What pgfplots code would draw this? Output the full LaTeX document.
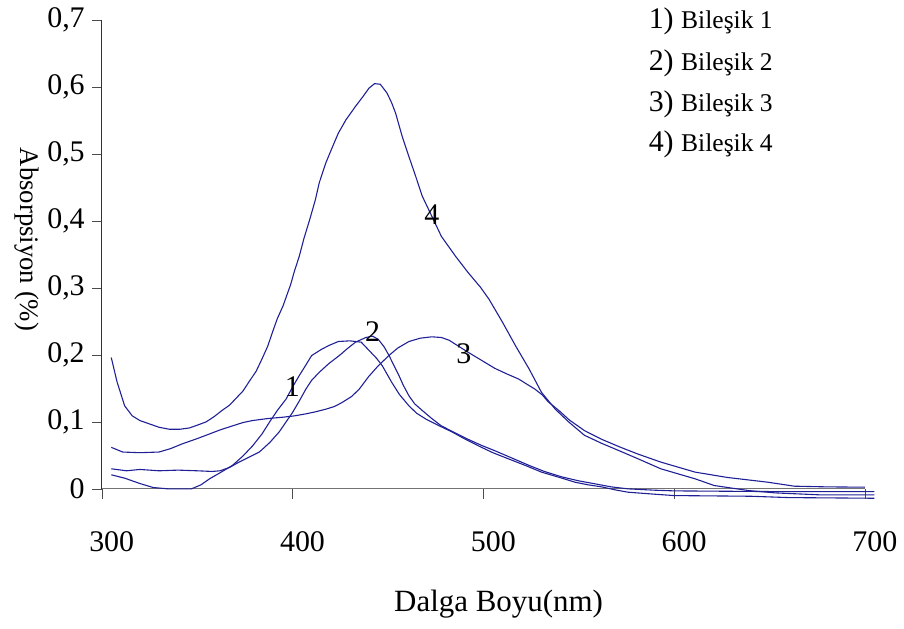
\documentclass[border=0pt]{standalone}
\usepackage{fontspec}
\setmainfont{Liberation Serif}
\usepackage{pgfplots}
\pgfplotsset{compat=1.18}
\definecolor{curve}{RGB}{32,32,150}
\newcommand{\fbig}{\fontsize{15}{18}\selectfont}
\newcommand{\fsm}{\fontsize{12.8}{15}\selectfont}
\begin{document}
\begin{tikzpicture}
\begin{axis}[
    scale only axis,
    width=382.5pt, height=235pt,
    xmin=300, xmax=700, ymin=0, ymax=0.7,
    axis lines=left,
    axis line style={-},
    x axis line style={draw=black!55},
    y axis line style={draw=black!80},
    tick align=outside,
    major tick length=5pt,
    tick style={black!70},
    xtick={300,400,500,600,700},
    ytick={0,0.1,0.2,0.3,0.4,0.5,0.6,0.7},
    /pgf/number format/assume math mode=true,
    /pgf/number format/use comma,
    /pgf/number format/fixed,
    /pgf/number format/precision=1,
    ticklabel style={font=\fbig},
    xticklabel style={yshift=-13pt, xshift=5pt},
    xlabel={Dalga Boyu(nm)},
    xlabel style={font=\fontsize{15.5}{18}\selectfont, at={(axis description cs:0.52,-0.245)}, anchor=center},
    ylabel={Absorpsiyon (\%)},
    ylabel style={font=\fontsize{13.4}{16}\selectfont, at={(axis description cs:-0.098,0.532)}, anchor=center, rotate=180},
    clip=false,
]
% 1) Bilesik 1
\addplot[curve, line width=0.55pt] coordinates {
(305,0.021)(312,0.016)(320,0.008)(327,0.002)(335,0.0)(347,0.0)(352,0.006)(356.5,0.015)
(362,0.024)(368.5,0.035)(374,0.049)(379,0.064)(384,0.082)(388,0.100)(392,0.117)(396.6,0.134)
(400,0.152)(403.5,0.169)(407,0.185)(410,0.199)(415,0.208)(419,0.214)(424,0.220)(430,0.221)
(436,0.219)(440,0.207)(444,0.195)(447,0.184)(452,0.159)(456,0.141)(461,0.124)(465,0.113)
(470,0.104)(477,0.094)(483.6,0.085)(490,0.075)(497.6,0.064)(505,0.054)(513,0.045)(522,0.035)
(530.5,0.025)(540,0.017)(548,0.010)(555,0.006)(562,0.003)(570,-0.002)(576,-0.005)(590,-0.008)
(600,-0.010)(640,-0.011)(660,-0.013)(705,-0.014)
};
% 2) Bilesik 2
\addplot[curve, line width=0.55pt] coordinates {
(305,0.030)(313,0.027)(320,0.029)(330,0.027)(340,0.028)(350,0.027)(358,0.026)(362,0.027)
(367,0.032)(372,0.040)(377,0.047)(382.6,0.055)(388,0.069)(393,0.085)(400,0.114)(403.5,0.131)
(407,0.149)(410,0.162)(414,0.174)(419,0.187)(424.5,0.199)(429,0.210)(433,0.219)(438.4,0.226)
(442,0.228)(445,0.223)(448,0.212)(450.6,0.199)(453,0.185)(455.8,0.169)(458,0.155)(461,0.139)
(464,0.127)(468,0.117)(473,0.105)(478,0.094)(485,0.084)(492,0.074)(499,0.065)(506,0.057)
(515,0.046)(524,0.035)(532,0.026)(541,0.018)(550,0.012)(558.6,0.0075)(567,0.003)(576,0.0)
(590,-0.002)(600,-0.003)(650,-0.004)(705,-0.004)
};
% 3) Bilesik 3
\addplot[curve, line width=0.55pt] coordinates {
(305,0.062)(311,0.055)(320,0.054)(330,0.055)(336,0.060)(342,0.067)(350,0.075)(356.5,0.082)
(362,0.088)(368.5,0.094)(374,0.099)(379,0.102)(387,0.105)(395,0.107)(401,0.109)(407,0.112)
(412,0.115)(417.5,0.119)(422,0.123)(426,0.129)(431,0.138)(435,0.149)(440,0.168)(445,0.184)
(450.5,0.199)(455,0.210)(461,0.220)(467,0.225)(473,0.227)(478,0.226)(482,0.222)(487,0.213)
(492,0.204)(499,0.192)(506,0.180)(512,0.172)(518.5,0.164)(523,0.156)(527,0.149)(531,0.140)
(534,0.130)(540,0.116)(545,0.103)(553,0.087)(562,0.074)(572,0.062)(581,0.052)(593,0.040)
(611,0.025)(628,0.017)(649,0.010)(663,0.004)(680,0.003)(700,0.0025)
};
% 4) Bilesik 4
\addplot[curve, line width=0.55pt] coordinates {
(305,0.196)(308,0.160)(312,0.124)(316,0.109)(320,0.102)(325,0.097)(330,0.092)(335.5,0.089)
(341,0.089)(346,0.091)(350,0.095)(354.7,0.100)(359,0.108)(363,0.117)(367,0.125)(370,0.134)
(374,0.146)(377,0.159)(381,0.176)(384,0.194)(387,0.213)(389.5,0.234)(392,0.254)(395,0.273)
(399,0.305)(401,0.325)(403.5,0.347)(406,0.374)(409,0.402)(412,0.432)(414,0.457)(417.5,0.487)
(421,0.511)(424,0.531)(428,0.551)(433,0.571)(437,0.586)(440,0.598)(443,0.605)(446,0.604)
(449.5,0.591)(452,0.576)(454,0.561)(457.5,0.526)(461,0.496)(464.5,0.467)(468,0.437)(473,0.407)
(478,0.377)(485.5,0.347)(492,0.323)(498.5,0.301)(503,0.283)(510,0.249)(517,0.213)(524,0.179)
(530.5,0.144)(537.7,0.119)(544.7,0.100)(553,0.080)(562,0.068)(572,0.056)(581,0.045)(593,0.030)
(611,0.015)(621,0.005)(639,-0.0025)(653,-0.006)(677,-0.009)(705,-0.009)
};
% curve labels
\node[font=\fbig] at (axis cs:399.9,0.152) {1};
\node[font=\fbig] at (axis cs:442,0.2346) {2};
\node[font=\fbig] at (axis cs:489.8,0.201) {3};
\node[font=\fbig] at (axis cs:473,0.4096) {4};
% key
\node[anchor=base west, inner sep=0pt] at (axis cs:586.5,0.6866) {\fbig 1)\ \fsm Bileşik 1};
\node[anchor=base west, inner sep=0pt] at (axis cs:586.5,0.6240) {\fbig 2)\ \fsm Bileşik 2};
\node[anchor=base west, inner sep=0pt] at (axis cs:586.5,0.5630) {\fbig 3)\ \fsm Bileşik 3};
\node[anchor=base west, inner sep=0pt] at (axis cs:586.5,0.5030) {\fbig 4)\ \fsm Bileşik 4};
% page frame
\path (rel axis cs:-0.1333,-0.2979) rectangle (rel axis cs:1.0484,1.0426);
\end{axis}
\end{tikzpicture}
\end{document}
